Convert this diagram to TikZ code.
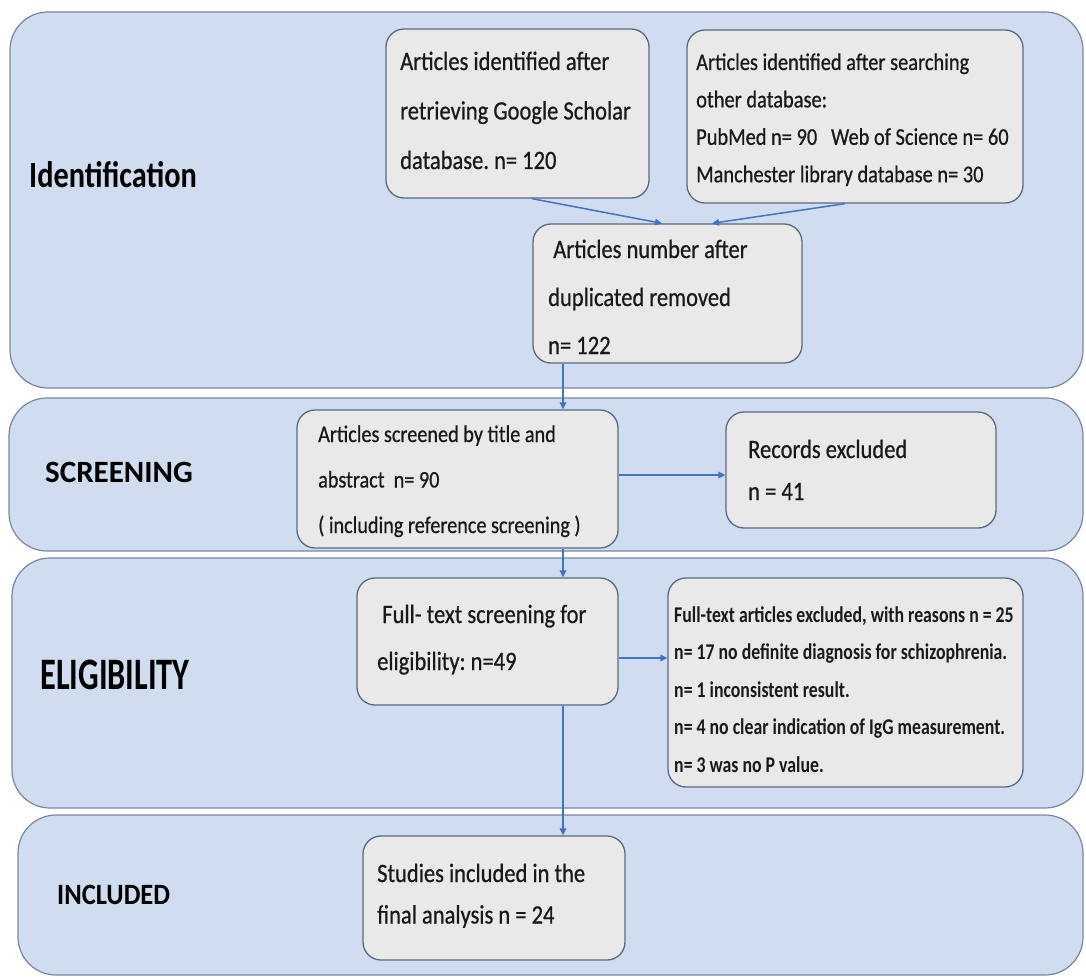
\documentclass[tikz,border=0pt]{standalone}
\usepackage{fontspec}
\setmainfont{Carlito}[FakeStretch=0.85, UprightFeatures={FakeBold=0.6}]
\newfontfamily\boldcond{Carlito}[FakeStretch=0.79]
\newfontfamily\labfont{Carlito}
\usepackage{graphicx}
\usetikzlibrary{arrows.meta}
\definecolor{bandfill}{RGB}{208,220,240}
\definecolor{bandline}{RGB}{120,135,160}
\definecolor{boxfill}{RGB}{233,233,233}
\definecolor{boxline}{RGB}{90,105,130}
\definecolor{arrowc}{RGB}{68,114,196}
\frenchspacing
\begin{document}
\begin{tikzpicture}[x=1pt,y=-1pt,
  band/.style={draw=bandline, fill=bandfill, line width=1.2pt, rounded corners=38pt},
  box/.style={draw=boxline, fill=boxfill, line width=1.3pt, rounded corners=18pt, inner sep=0pt},
  txt/.style={anchor=base west, inner sep=0pt, text=black!90},
  lab/.style={anchor=base west, inner sep=0pt, text=black, font=\labfont\bfseries},
  arr/.style={draw=arrowc, line width=1.5pt, -{Triangle[length=7pt,width=6.5pt]}}]
\useasboundingbox (0,0) rectangle (1086,979);
\fill[white] (0,0) rectangle (1086,979);
% bands
\draw[band] (10,12) rectangle (1083,388);
\draw[band] (9,398) rectangle (1083,551);
\draw[band] (12,558) rectangle (1083,808);
\draw[band] (18,815) rectangle (1083,975);
% band labels
\node[lab] (lid) at (29,187) {\fontsize{37}{37}\selectfont\scalebox{0.82}[1]{Identification}};
\node[lab] (lsc) at (45,482) {\fontsize{31}{31}\selectfont\scalebox{1.0}[1]{SCREENING}};
\node[lab] (lel) at (40,689) {\fontsize{45}{45}\selectfont\scalebox{0.72}[1]{ELIGIBILITY}};
\node[lab] (lin) at (57,904) {\fontsize{29.5}{29.5}\selectfont\scalebox{0.9}[1]{INCLUDED}};
% boxes
\node[box, minimum width=263pt, minimum height=169pt] (gs)  at (517.5,113.5) {};
\node[box, minimum width=336pt, minimum height=173pt] (oth) at (855,116.5) {};
\node[box, minimum width=269pt, minimum height=139pt] (dup) at (667.5,293.5) {};
\node[box, minimum width=321pt, minimum height=138pt] (scr) at (457.5,479) {};
\node[box, minimum width=270pt, minimum height=116pt] (rec) at (861,470) {};
\node[box, minimum width=261pt, minimum height=127pt] (ft)  at (487.5,641.5) {};
\node[box, minimum width=355pt, minimum height=209pt] (exc) at (845.5,682.5) {};
\node[box, minimum width=262pt, minimum height=124pt] (stu) at (494,898) {};
% texts
\node[txt, font=\fontsize{26.5}{49.5}\selectfont] (gsT) at (400,70)
  {\vtop{\hbox{Articles identified after}\hbox{retrieving Google Scholar}\hbox{database. n= 120}}};
\node[txt, font=\fontsize{24}{37.4}\selectfont] (othT) at (696,70)
  {\vtop{\hbox{Articles identified after searching}\hbox{other database:}\hbox{PubMed n= 90\ \ \ Web of Science n= 60}\hbox{Manchester library database n= 30}}};
\node[txt, font=\fontsize{26.5}{48}\selectfont] (dupT) at (548,258)
  {\vtop{\hbox{\ Articles number after}\hbox{duplicated removed}\hbox{n= 122}}};
\node[txt, font=\fontsize{23.8}{45.5}\selectfont] (scrT) at (318,442)
  {\vtop{\hbox{Articles screened by title and}\hbox{abstract\ \ n= 90}\hbox{( including reference screening )}}};
\node[txt, font=\fontsize{26.5}{42}\selectfont] (recT) at (748,458)
  {\vtop{\hbox{Records excluded}\hbox{n = 41}}};
\node[txt, font=\fontsize{26.5}{47}\selectfont] (ftT) at (377,623)
  {\vtop{\hbox{\ Full- text screening for}\hbox{eligibility: n=49}}};
\node[txt, font=\boldcond\bfseries\fontsize{22.5}{37.5}\selectfont] (excT) at (674,622)
  {\vtop{\hbox{Full-text articles excluded, with reasons n = 25}\hbox{n= 17 no definite diagnosis for schizophrenia.}\hbox{n= 1 inconsistent result.}\hbox{n= 4 no clear indication of IgG measurement.}\hbox{n= 3 was no P value.}}};
\node[txt, font=\fontsize{26.5}{41.5}\selectfont] (stuT) at (377,882)
  {\vtop{\hbox{Studies included in the}\hbox{final analysis n = 24}}};
% connectors
\draw[arr] ([xshift=14.5pt]gs.south) -- ([xshift=-5.5pt]dup.north);
\draw[arr] ([xshift=-10pt]oth.south) -- ([xshift=44.5pt]dup.north);
\draw[arr] ([xshift=-104.5pt]dup.south) -- ([xshift=-104.5pt]dup.south |- scr.north);
\draw[arr] ([yshift=4pt]scr.east) -- ([yshift=4pt]scr.east -| rec.west);
\draw[arr] ([xshift=105.5pt]scr.south) -- ([xshift=105.5pt]scr.south |- ft.north);
\draw[arr] ([yshift=-16.5pt]ft.east) -- ([yshift=-16.5pt]ft.east -| exc.west);
\draw[arr] ([xshift=75.5pt]ft.south) -- ([xshift=75.5pt]ft.south |- stu.north);
\end{tikzpicture}
\end{document}
